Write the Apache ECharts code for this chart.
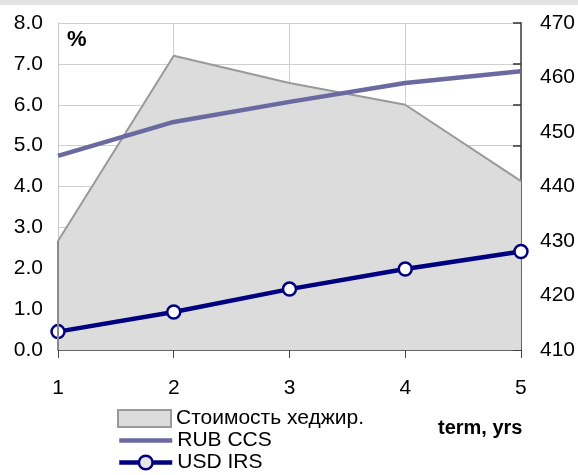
<!DOCTYPE html>
<html>
<head>
<meta charset="utf-8">
<script src="https://cdn.jsdelivr.net/npm/echarts@6/dist/echarts.min.js"></script>
<style>
  html, body { margin: 0; padding: 0; background: #fff; }
  #chart { width: 578px; height: 475px; }
</style>
</head>
<body>
<div id="chart"></div>
<script>
// Term of the contract, years
const terms = ['1', '2', '3', '4', '5'];
// Rates, % (left axis)
const rubCcs = [4.75, 5.58, 6.07, 6.53, 6.82];
const usdIrs = [0.45, 0.93, 1.49, 1.98, 2.41];
// Hedging cost, bp (right axis)
const hedgeCost = [430, 464, 459, 455, 441];
// Right axis: labelled values and tick positions
const rightMin = 410;
const rightMax = 470;
const rightLabels = [410, 420, 430, 440, 450, 460, 470];
const rightTicks = [410, 417.5, 425, 432.5, 440, 447.5, 455, 462.5, 470];

const FONT = '"Liberation Sans", Arial, sans-serif';
const FS = 21;

// One legend block per row keeps the rows stacked in a single column
function legendRow(top, item) {
  return {
    orient: 'vertical',
    left: 117,
    top: top,
    itemWidth: 53,
    itemHeight: 17,
    padding: 0,
    textStyle: { fontFamily: FONT, fontSize: FS, color: '#000', lineHeight: 20 },
    data: [item]
  };
}

const chart = echarts.init(document.getElementById('chart'), null, { renderer: 'canvas' });

chart.setOption({
  backgroundColor: '#ffffff',
  animation: false,
  textStyle: { fontFamily: FONT },
  grid: { left: 58, right: 57, top: 23, bottom: 125, containLabel: false },
  legend: [
    legendRow(408, { name: 'Стоимость хеджир.', icon: 'rect',
      itemStyle: { color: '#dcdcdc', borderColor: '#999999', borderWidth: 2 } }),
    legendRow(430, { name: 'RUB CCS', itemStyle: { opacity: 0 },
      lineStyle: { color: '#6a6aa0', width: 4.5 } }),
    legendRow(452, { name: 'USD IRS',
      itemStyle: { color: '#e6e6e6', borderColor: '#000080', borderWidth: 2.5 },
      lineStyle: { color: '#000080', width: 4.5 } })
  ],
  xAxis: {
    type: 'category',
    data: terms,
    boundaryGap: false,
    axisLine: { lineStyle: { color: '#444', width: 1.5 } },
    axisTick: { show: true, length: 8, lineStyle: { color: '#444' } },
    axisLabel: { fontFamily: FONT, fontSize: FS, color: '#000', margin: 28 },
    splitLine: { show: true, lineStyle: { color: '#cfcfcf', width: 1 } }
  },
  yAxis: [
    {
      type: 'value',
      min: 0,
      max: 8,
      interval: 1,
      axisLine: { show: true, lineStyle: { color: '#c8c8c8' } },
      axisTick: { show: false },
      axisLabel: {
        fontFamily: FONT, fontSize: FS, color: '#000', margin: 15,
        formatter: v => v.toFixed(1)
      },
      splitLine: { show: true, lineStyle: { color: '#cfcfcf', width: 1 } }
    },
    {
      type: 'value',
      position: 'right',
      min: rightMin,
      max: rightMax,
      axisLine: { show: true, lineStyle: { color: '#6a6a6a', width: 2 } },
      axisTick: {
        show: true, inside: true, length: 8,
        lineStyle: { color: '#333', width: 1.5 },
        customValues: rightTicks
      },
      axisLabel: {
        fontFamily: FONT, fontSize: FS, color: '#000', margin: 19,
        customValues: rightLabels
      },
      splitLine: { show: false }
    }
  ],
  graphic: [
    { type: 'rect', left: 0, top: 0, shape: { width: 578, height: 5 }, style: { fill: '#e2e2e2' }, z: 100 },
    { type: 'text', left: 67, top: 29, style: { text: '%', font: 'bold 22px ' + FONT, fill: '#000' } },
    { type: 'text', left: 438, top: 418, style: { text: 'term, yrs', font: 'bold 20px ' + FONT, fill: '#000' } }
  ],
  series: [
    {
      name: 'Стоимость хеджир.',
      type: 'line',
      yAxisIndex: 1,
      data: hedgeCost,
      symbol: 'none',
      lineStyle: { color: '#999999', width: 2 },
      itemStyle: { color: '#dcdcdc' },
      areaStyle: { color: '#dcdcdc', opacity: 1, origin: 'start' },
      // outline of the area's left edge
      markLine: {
        silent: true,
        symbol: 'none',
        label: { show: false },
        lineStyle: { color: '#8a8a8a', width: 2, type: 'solid' },
        data: [[
          { coord: [terms[0], rightMin] },
          { coord: [terms[0], hedgeCost[0]] }
        ]]
      },
      z: 1
    },
    {
      name: 'RUB CCS',
      type: 'line',
      data: rubCcs,
      symbol: 'none',
      lineStyle: { color: '#6a6aa0', width: 4.5 },
      itemStyle: { color: '#6a6aa0' },
      z: 3
    },
    {
      name: 'USD IRS',
      type: 'line',
      data: usdIrs,
      symbol: 'circle',
      symbolSize: 13,
      lineStyle: { color: '#000080', width: 4.5 },
      itemStyle: { color: '#ffffff', borderColor: '#000080', borderWidth: 2.5 },
      z: 4
    }
  ]
});
</script>
</body>
</html>
